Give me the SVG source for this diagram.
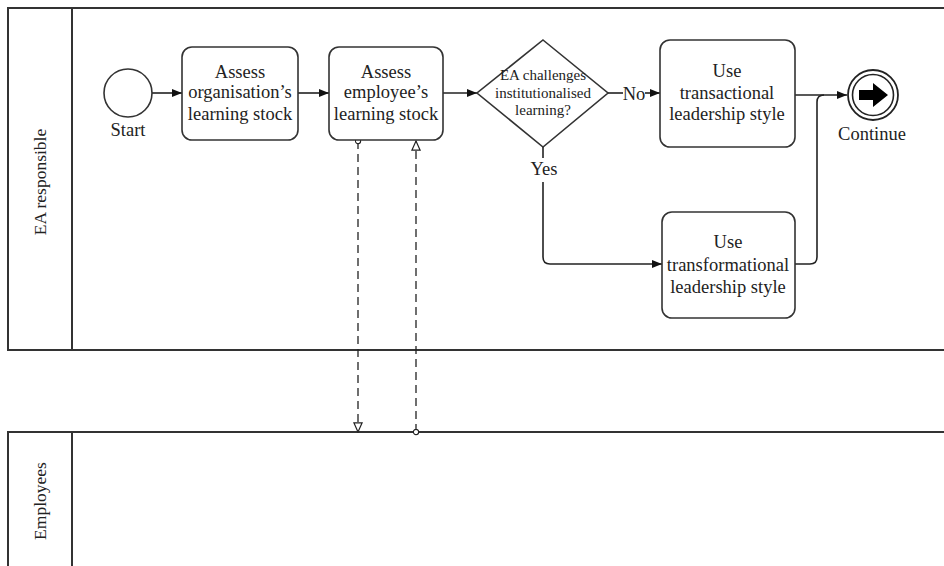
<svg xmlns="http://www.w3.org/2000/svg" width="944" height="566" viewBox="0 0 944 566">
  <defs>
    <marker id="arrow" viewBox="0 0 10 10" refX="10" refY="5" markerWidth="10" markerHeight="10" markerUnits="userSpaceOnUse" orient="auto">
      <path d="M0,1 L10,5 L0,9 Z" fill="#111"/>
    </marker>
    <marker id="open-arrow" viewBox="0 0 12 12" refX="11" refY="6" markerWidth="11" markerHeight="11" markerUnits="userSpaceOnUse" orient="auto">
      <path d="M1,1.5 L11,6 L1,10.5 Z" fill="#fff" stroke="#222" stroke-width="1.3"/>
    </marker>
    <marker id="dot" viewBox="0 0 8 8" refX="4" refY="4" markerWidth="7" markerHeight="7" markerUnits="userSpaceOnUse">
      <circle cx="4" cy="4" r="3" fill="#fff" stroke="#222" stroke-width="1.3"/>
    </marker>
  </defs>
  <style>
    .pool { fill: #fff; stroke: #333; stroke-width: 2; }
    .lane-label { font-family: "Liberation Serif", "Times New Roman", serif; font-size: 17.5px; fill: #222; text-anchor: middle; }
    .task { fill: #fff; stroke: #333; stroke-width: 1.6; }
    .label { font-family: "Liberation Serif", "Times New Roman", serif; font-size: 18.5px; fill: #222; text-anchor: middle; }
    .small { font-family: "Liberation Serif", "Times New Roman", serif; font-size: 15px; fill: #222; text-anchor: middle; }
    .flow { fill: none; stroke: #222; stroke-width: 1.6; }
    .msg { fill: none; stroke: #222; stroke-width: 1.3; stroke-dasharray: 8 5; }
  </style>

  <rect width="944" height="566" fill="#fff"/>

  <!-- Pool: EA responsible -->
  <g id="pool-ea">
    <path class="pool" d="M960,8 H8 V350 H960"/>
    <line x1="72" y1="8" x2="72" y2="350" stroke="#333" stroke-width="2"/>
    <text class="lane-label" transform="translate(46,182) rotate(-90)">EA responsible</text>
  </g>

  <!-- Pool: Employees -->
  <g id="pool-employees">
    <path class="pool" d="M960,432 H8 V580"/>
    <line x1="72" y1="432" x2="72" y2="580" stroke="#333" stroke-width="2"/>
    <text class="lane-label" transform="translate(46,501) rotate(-90)">Employees</text>
  </g>

  <!-- Connectors -->
  <g id="connectors">
    <path class="flow" d="M152,93 H182" marker-end="url(#arrow)"/>
    <path class="flow" d="M298,93 H329" marker-end="url(#arrow)"/>
    <path class="flow" d="M443,93 H477" marker-end="url(#arrow)"/>
    <path class="flow" d="M608,93 H623"/>
    <path class="flow" d="M645,93 H660" marker-end="url(#arrow)"/>
    <path class="flow" d="M795,95 H847" marker-end="url(#arrow)"/>
    <path class="flow" d="M543,147 V158"/>
    <path class="flow" d="M543,182 V257 Q543,264 550,264 H662" marker-end="url(#arrow)"/>
    <path class="flow" d="M795,264 H810 Q817,264 817,257 V102 Q817,95 824,95"/>
    <path class="msg" d="M358,141 V432" marker-start="url(#dot)" marker-end="url(#open-arrow)"/>
    <path class="msg" d="M416,432 V141" marker-start="url(#dot)" marker-end="url(#open-arrow)"/>
    <text class="label" x="634" y="100">No</text>
    <text class="label" x="544" y="175">Yes</text>
  </g>

  <!-- Start event -->
  <g id="start">
    <circle cx="128" cy="93" r="24" fill="#fff" stroke="#333" stroke-width="1.6"/>
    <text class="label" x="128" y="136" font-size="17">Start</text>
  </g>

  <!-- Tasks -->
  <g id="task-organisation">
    <rect class="task" x="182" y="47" width="116" height="93" rx="10"/>
    <text class="label" x="240" y="78">Assess</text>
    <text class="label" x="240" y="98">organisation’s</text>
    <text class="label" x="240" y="120">learning stock</text>
  </g>

  <g id="task-employee">
    <rect class="task" x="329" y="47" width="114" height="93" rx="10"/>
    <text class="label" x="386" y="78">Assess</text>
    <text class="label" x="386" y="98">employee’s</text>
    <text class="label" x="386" y="120">learning stock</text>
  </g>

  <!-- Gateway -->
  <g id="gateway">
    <path d="M543,40 L608,93 L543,147 L477,93 Z" fill="#fff" stroke="#333" stroke-width="1.6"/>
    <text class="small" x="543" y="80">EA challenges</text>
    <text class="small" x="543" y="98">institutionalised</text>
    <text class="small" x="543" y="115">learning?</text>
  </g>

  <g id="task-transactional">
    <rect class="task" x="660" y="40" width="135" height="107" rx="10"/>
    <text class="label" x="727" y="77">Use</text>
    <text class="label" x="727" y="99">transactional</text>
    <text class="label" x="727" y="120">leadership style</text>
  </g>

  <g id="task-transformational">
    <rect class="task" x="662" y="212" width="133" height="106" rx="10"/>
    <text class="label" x="728" y="248">Use</text>
    <text class="label" x="728" y="271">transformational</text>
    <text class="label" x="728" y="293">leadership style</text>
  </g>

  <!-- End event -->
  <g id="continue">
    <circle cx="873" cy="95" r="25" fill="#fff" stroke="#222" stroke-width="1.8"/>
    <circle cx="873" cy="95" r="20.5" fill="#fff" stroke="#222" stroke-width="1.6"/>
    <path d="M859,90 H873 V83 L888,95 L873,107 V100 H859 Z" fill="#000"/>
    <text class="label" x="872" y="140" font-size="17">Continue</text>
  </g>
</svg>
